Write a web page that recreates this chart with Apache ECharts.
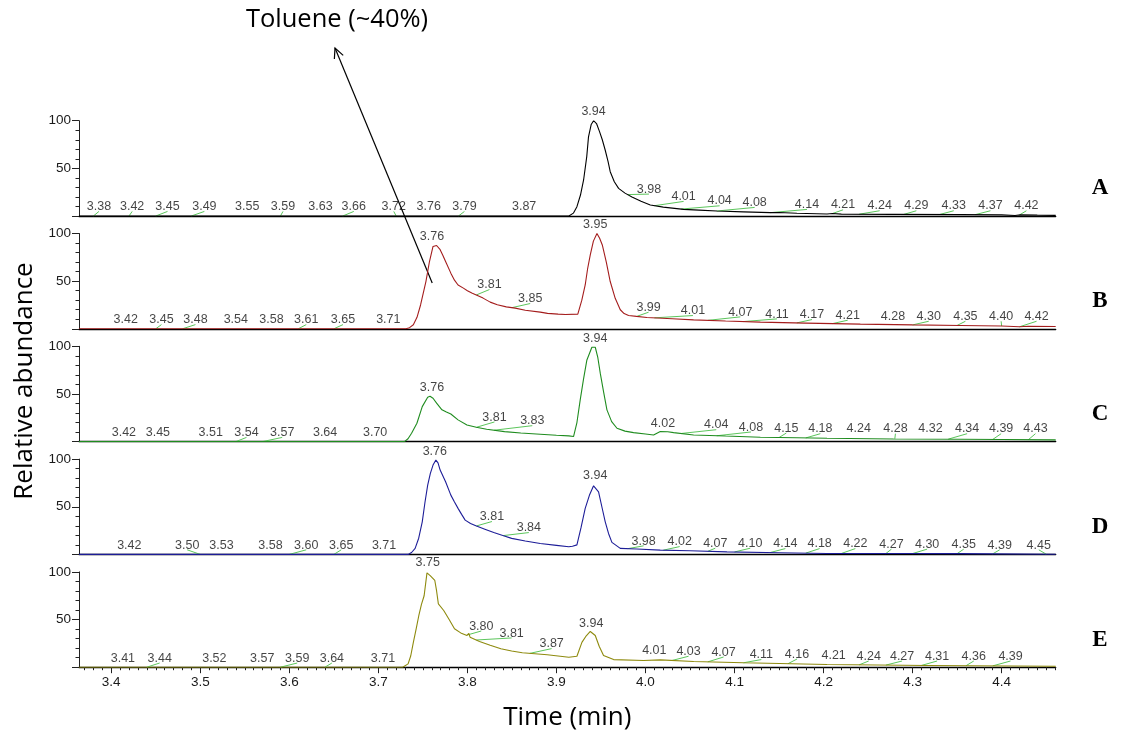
<!DOCTYPE html>
<html>
<head>
<meta charset="utf-8">
<script src="https://cdn.jsdelivr.net/npm/echarts@6/dist/echarts.min.js"></script>
<style>
  html, body { margin: 0; padding: 0; background: #fff; }
  #chart { width: 1123px; height: 738px; }
</style>
</head>
<body>
<div id="chart"></div>
<script>
// Retention-time window shared by all five chromatograms (min)
const timeMin = 3.3638;
const timeMax = 4.4607;

const xTickLabels = ['3.4', '3.5', '3.6', '3.7', '3.8', '3.9', '4.0', '4.1', '4.2', '4.3', '4.4'];
const yTickLabels = [50, 100];

const panelNames = ['A', 'B', 'C', 'D', 'E'];
const panelColors = ['#000000', '#a41d1d', '#1f8c1f', '#1d1d98', '#8e8a0e'];

// Traces: [time (min), relative abundance (%)]
const traceA = [
  [3.3638, 0], [3.914, 0], [3.9155, 1], [3.919, 3], [3.923, 9.8], [3.927, 22], [3.9305, 37.8],
  [3.934, 62], [3.936, 83], [3.939, 96], [3.9417, 100], [3.945, 97], [3.9484, 88.5], [3.9515, 80],
  [3.9548, 69], [3.958, 57], [3.9604, 46.5], [3.965, 36], [3.9698, 29], [3.977, 24], [3.9848, 20],
  [3.995, 15.5], [4.0054, 11.5], [4.02, 9.3], [4.0428, 7], [4.06, 6.2], [4.0803, 5.2], [4.11, 4.3],
  [4.1402, 3.5], [4.15, 3.6], [4.17, 2.9], [4.2039, 2.1], [4.21, 2.6], [4.22, 2.0], [4.2787, 1.7],
  [4.3537, 1.4], [4.40, 1.2], [4.415, 0.6], [4.421, 1.2], [4.44, 0.9], [4.4607, 0.7]
];
const traceB = [
  [3.3638, 0], [3.731, 0], [3.735, 1.2], [3.7393, 4.2], [3.7434, 12], [3.7474, 25], [3.7534, 49.6],
  [3.7574, 70.6], [3.7614, 86.4], [3.7634, 88], [3.7654, 87.4], [3.7694, 83], [3.7725, 77],
  [3.7755, 70.6], [3.7814, 58.4], [3.7855, 51], [3.7895, 46], [3.7955, 42.7], [3.80, 40],
  [3.8055, 37.4], [3.81, 35.5], [3.8176, 32.2], [3.8256, 28], [3.8336, 25.2], [3.8437, 23],
  [3.8537, 21.7], [3.865, 19.5], [3.8818, 17.5], [3.89, 16.2], [3.9019, 15.4], [3.91, 15],
  [3.924, 15.4], [3.9285, 30], [3.9323, 46], [3.935, 63], [3.938, 77.6], [3.9415, 92],
  [3.9455, 100], [3.9485, 95], [3.9515, 88], [3.956, 70], [3.9604, 49.6], [3.966, 32],
  [3.9717, 20], [3.976, 16], [3.981, 14], [3.99, 13], [4.0016, 11.9], [4.03, 10.5], [4.054, 9.4],
  [4.09, 8.2], [4.129, 7], [4.18, 6], [4.2413, 4.9], [4.30, 4.1], [4.3537, 3.5], [4.40, 2.9],
  [4.42, 2.1], [4.43, 2.7], [4.4607, 2.4]
];
const traceC = [
  [3.3638, 0], [3.7293, 0], [3.7333, 3], [3.7373, 8.8], [3.7433, 19.3], [3.7493, 36.7],
  [3.7554, 46.6], [3.758, 47.5], [3.7614, 45.5], [3.7654, 40.3], [3.7714, 33.3], [3.7764, 31],
  [3.7814, 29], [3.7895, 22.8], [3.7995, 17.5], [3.81, 15], [3.8216, 13], [3.8417, 10.5],
  [3.86, 9], [3.8818, 7.7], [3.90, 6.6], [3.9139, 6], [3.9192, 5.3], [3.923, 20], [3.9267, 43.8],
  [3.9305, 66], [3.9342, 85.7], [3.9398, 99], [3.9436, 99], [3.9465, 88], [3.9492, 71.8],
  [3.953, 52], [3.9567, 33.3], [3.962, 21], [3.968, 14], [3.977, 11], [3.9866, 9.4], [4.00, 8],
  [4.0091, 7], [4.0166, 10.5], [4.025, 10.3], [4.0316, 9.4], [4.0541, 7], [4.09, 5.8],
  [4.129, 4.6], [4.17, 4], [4.2039, 3.5], [4.2787, 2.8], [4.3537, 2.5], [4.40, 2.2], [4.4607, 1.8]
];
const traceD = [
  [3.3638, 0], [3.7334, 0], [3.7373, 2], [3.7413, 6.3], [3.7453, 17], [3.7493, 34.2],
  [3.7524, 55], [3.7554, 72.7], [3.7584, 85], [3.7614, 93.7], [3.7646, 99], [3.767, 96],
  [3.7694, 88.5], [3.7755, 76.2], [3.7814, 62.2], [3.7855, 55], [3.7895, 48.3], [3.7935, 42],
  [3.7975, 36], [3.8035, 32.5], [3.8095, 30], [3.8196, 26.5], [3.8296, 23], [3.8397, 19.8],
  [3.8497, 16.8], [3.865, 14], [3.8818, 11.5], [3.90, 9.5], [3.9139, 8], [3.918, 8.6],
  [3.923, 10], [3.9276, 28], [3.9323, 48.3], [3.937, 62], [3.9417, 72], [3.9473, 65.7],
  [3.951, 50], [3.9548, 34.2], [3.9585, 22], [3.9623, 12.6], [3.9717, 6.3], [3.99, 5.6],
  [4.0166, 4.5], [4.05, 3.8], [4.0915, 2.7], [4.15, 1.8], [4.2039, 1], [4.30, 0.9],
  [4.3537, 0.8], [4.4607, 0.2]
];
const traceE = [
  [3.3638, 0], [3.7273, 0], [3.7334, 3.5], [3.7364, 12], [3.7393, 26], [3.7424, 40],
  [3.7454, 54], [3.7484, 66], [3.7514, 75], [3.7546, 99], [3.7582, 96], [3.7634, 91],
  [3.7654, 80], [3.7674, 66.5], [3.7734, 59.5], [3.7795, 50], [3.7855, 40.3], [3.7925, 36],
  [3.7995, 33.3], [3.8016, 35.5], [3.803, 31.5], [3.8136, 27], [3.8256, 23], [3.8376, 19.3],
  [3.8497, 17], [3.8617, 15.1], [3.8897, 13], [3.9139, 10.5], [3.923, 11.5], [3.9286, 26],
  [3.9335, 33], [3.938, 37.5], [3.9436, 33.3], [3.948, 22], [3.9529, 12.3], [3.9642, 8],
  [3.9979, 7], [4.0166, 7.7], [4.0541, 6], [4.1102, 4.6], [4.2039, 2.8], [4.3163, 1.8],
  [4.4607, 1]
];

// Retention-time labels: [text, label centre time, label centre height, has leader line]
const peaksA = [
  ['3.38', 3.3862, 9.8, 1], ['3.42', 3.4235, 9.8, 1], ['3.45', 3.4632, 9.8, 1], ['3.49', 3.5046, 9.8, 1],
  ['3.55', 3.5527, 9.8, 0], ['3.59', 3.5929, 9.8, 1], ['3.63', 3.6350, 9.8, 0], ['3.66', 3.6724, 9.8, 1],
  ['3.72', 3.7173, 9.8, 1], ['3.76', 3.7566, 9.8, 0], ['3.79', 3.7967, 9.8, 1], ['3.87', 3.8637, 9.8, 0],
  ['3.94', 3.9417, 109.5, 0], ['3.98', 4.0039, 28, 1], ['4.01', 4.0428, 20.3, 1], ['4.04', 4.0833, 15.7, 1],
  ['4.08', 4.1226, 14, 1], ['4.14', 4.1814, 11.9, 1], ['4.21', 4.2219, 11.5, 1], ['4.24', 4.2630, 10.5, 1],
  ['4.29', 4.3042, 10.5, 1], ['4.33', 4.3462, 10.5, 1], ['4.37', 4.3874, 10.5, 1], ['4.42', 4.4278, 10.5, 1]
];
const peaksB = [
  ['3.42', 3.4163, 9.4, 0], ['3.45', 3.4564, 9.4, 1], ['3.48', 3.4946, 9.4, 1], ['3.54', 3.5399, 9.4, 0],
  ['3.58', 3.5800, 9.4, 0], ['3.61', 3.6190, 9.4, 1], ['3.65', 3.6603, 9.4, 1], ['3.71', 3.7112, 9.4, 0],
  ['3.76', 3.7602, 96.9, 0], ['3.81', 3.8248, 46.2, 1], ['3.85', 3.8705, 31.5, 1], ['3.95', 3.9436, 109, 0],
  ['3.99', 4.0035, 22.4, 1], ['4.01', 4.0533, 18.9, 1], ['4.07', 4.1065, 17.5, 1], ['4.11', 4.1477, 15.4, 1],
  ['4.17', 4.1870, 14.7, 1], ['4.21', 4.2271, 14, 1], ['4.28', 4.2780, 12.9, 0], ['4.30', 4.3181, 12.9, 1],
  ['4.35', 4.3593, 12.9, 1], ['4.40', 4.3994, 12.9, 1], ['4.42', 4.4392, 12.9, 1]
];
const peaksC = [
  ['3.42', 3.4142, 9.4, 0], ['3.45', 3.4524, 9.4, 0], ['3.51', 3.5118, 9.4, 0], ['3.54', 3.5519, 9.4, 1],
  ['3.57', 3.5920, 9.4, 1], ['3.64', 3.6402, 9.4, 0], ['3.70', 3.6964, 9.4, 0], ['3.76', 3.7602, 56.7, 0],
  ['3.81', 3.8304, 25.6, 1], ['3.83', 3.8729, 21.7, 1], ['3.94', 3.9436, 108.4, 0], ['4.02', 4.0196, 19.3, 0],
  ['4.04', 4.0795, 17.5, 1], ['4.08', 4.1185, 15.1, 1], ['4.15', 4.1582, 14, 1], ['4.18', 4.1964, 13.3, 1],
  ['4.24', 4.2395, 13.3, 0], ['4.28', 4.2807, 13.3, 1], ['4.32', 4.3200, 13.3, 0], ['4.34', 4.3612, 13.3, 1],
  ['4.39', 4.3994, 13.3, 1], ['4.43', 4.4380, 13.3, 1]
];
const peaksD = [
  ['3.42', 3.4203, 9.8, 0], ['3.50', 3.4853, 9.8, 1], ['3.53', 3.5238, 9.8, 0], ['3.58', 3.5789, 9.8, 0],
  ['3.60', 3.6190, 9.8, 1], ['3.65', 3.6583, 9.8, 1], ['3.71', 3.7064, 9.8, 0], ['3.76', 3.7634, 107.7, 0],
  ['3.81', 3.8276, 39.5, 1], ['3.84', 3.8690, 27.9, 1], ['3.94', 3.9436, 82.5, 0], ['3.98', 3.9979, 14, 1],
  ['4.02', 4.0384, 13.2, 1], ['4.07', 4.0784, 11.5, 1], ['4.10', 4.1177, 11.5, 1], ['4.14', 4.1571, 11.1, 1],
  ['4.18', 4.1956, 11.1, 1], ['4.22', 4.2357, 11.1, 1], ['4.27', 4.2762, 10.5, 1], ['4.30', 4.3163, 10.5, 1],
  ['4.35', 4.3574, 10.5, 1], ['4.39', 4.3978, 9.8, 1], ['4.45', 4.4417, 9.8, 1]
];
const peaksE = [
  ['3.41', 3.4131, 9.4, 0], ['3.44', 3.4544, 9.4, 1], ['3.52', 3.5158, 9.4, 0], ['3.57', 3.5696, 9.4, 0],
  ['3.59', 3.6089, 9.4, 1], ['3.64', 3.6478, 9.4, 1], ['3.71', 3.7052, 9.4, 0], ['3.75', 3.7554, 109.5, 0],
  ['3.80', 3.8156, 43, 1], ['3.81', 3.8497, 35.7, 1], ['3.87', 3.8946, 24.5, 1], ['3.94', 3.9390, 46.2, 0],
  ['4.01', 4.0099, 17.5, 0], ['4.03', 4.0484, 16.5, 1], ['4.07', 4.0877, 15.7, 1], ['4.11', 4.1301, 13, 1],
  ['4.16', 4.1702, 13.6, 1], ['4.21', 4.2113, 12.3, 0], ['4.24', 4.2507, 11.5, 1], ['4.27', 4.2882, 11.5, 1],
  ['4.31', 4.3275, 11.5, 1], ['4.36', 4.3687, 11.5, 1], ['4.39', 4.4100, 11.5, 1]
];

const annotationText = 'Toluene (~40%)';
const xAxisTitle = 'Time (min)';
const yAxisTitle = 'Relative abundance';

const traces = [traceA, traceB, traceC, traceD, traceE];
const peakLabels = [peaksA, peaksB, peaksC, peaksD, peaksE];

// Height of a trace at a given time (for where a leader line meets the trace)
function traceAt(trace, t) {
  for (let k = 1; k < trace.length; k++) {
    const [t0, v0] = trace[k - 1];
    const [t1, v1] = trace[k];
    if (t >= t0 && t <= t1) return v0 + (v1 - v0) * (t - t0) / (t1 - t0);
  }
  return trace[trace.length - 1][1];
}

const labelFont = 'Liberation Sans, Arial, sans-serif';
const titleFont = 'Open Sans, Noto Sans, sans-serif';

const gridLeft = 79, gridWidth = 976.7, gridTop0 = 120.7, gridPitch = 112.8, gridHeight = 95.3;
const last = panelNames.length - 1;

const grids = [], xAxes = [], yAxes = [], series = [];
const majorX = xTickLabels.map(Number);
const minorX = [];
for (let k = 337; k <= 446; k++) {
  if (k % 10 !== 0) minorX.push(k / 100);
}

panelNames.forEach((name, i) => {
  grids.push({ left: gridLeft, width: gridWidth, top: gridTop0 + i * gridPitch, height: gridHeight });
  const isBottom = i === last;
  xAxes.push({
    type: 'value', gridIndex: i, position: 'bottom', min: timeMin, max: timeMax,
    axisLine: { show: true, onZero: false, lineStyle: { color: '#000', width: 1.3 } },
    axisTick: { show: isBottom, customValues: majorX, length: 6, lineStyle: { color: '#222' } },
    axisLabel: {
      show: isBottom, customValues: majorX, margin: 8,
      formatter: v => v.toFixed(1), color: '#1a1a1a', fontSize: 13.5, fontFamily: labelFont
    },
    splitLine: { show: false }
  });
  // relative-abundance axis: labelled at 50 and 100, minor ticks every 10
  yAxes.push({
    type: 'value', gridIndex: i, position: 'left', min: 0, max: 100, interval: 50,
    axisLine: { show: true, onZero: false, lineStyle: { color: '#222', width: 1 } },
    axisTick: { show: true, length: 7, lineStyle: { color: '#222' } },
    minorTick: { show: true, splitNumber: 5, length: 3.5, lineStyle: { color: '#222' } },
    axisLabel: { show: true, customValues: yTickLabels, margin: 8, color: '#1a1a1a', fontSize: 13.5, fontFamily: labelFont },
    splitLine: { show: false },
    minorSplitLine: { show: false }
  });
});

// extra bottom axis carrying the 0.01-min minor ticks
xAxes.push({
  type: 'value', gridIndex: last, position: 'bottom', offset: 0, min: timeMin, max: timeMax,
  axisLine: { show: false, onZero: false },
  axisTick: { show: true, customValues: minorX, length: 3, lineStyle: { color: '#222' } },
  axisLabel: { show: false },
  splitLine: { show: false }
});

panelNames.forEach((name, i) => {
  const trace = traces[i];
  const peaks = peakLabels[i];
  series.push({
    name: 'leaders ' + name,
    type: 'lines', coordinateSystem: 'cartesian2d', xAxisIndex: i, yAxisIndex: i,
    silent: true, z: 2,
    lineStyle: { color: '#5cc65c', width: 1, opacity: 1 },
    data: peaks.filter(p => p[3]).map(p => ({
      coords: [[Number(p[0]), traceAt(trace, Number(p[0]))], [p[1], p[2] - 5]]
    }))
  });
  series.push({
    name: 'trace ' + name,
    type: 'line', xAxisIndex: i, yAxisIndex: i,
    data: trace, showSymbol: false, symbol: 'none', z: 3,
    lineStyle: { color: panelColors[i], width: 1.1 },
    silent: true
  });
  series.push({
    name: 'labels ' + name,
    type: 'scatter', xAxisIndex: i, yAxisIndex: i,
    symbolSize: 0, clip: false, silent: true, z: 4,
    data: peaks.map(p => ({ name: p[0], value: [p[1], p[2]] })),
    label: {
      show: true, position: 'inside', formatter: '{b}',
      color: '#141414', fontSize: 12.5, fontFamily: labelFont
    }
  });
});

const chart = echarts.init(document.getElementById('chart'), null, { renderer: 'canvas' });
chart.setOption({
  animation: false,
  backgroundColor: '#fff',
  grid: grids,
  xAxis: xAxes,
  yAxis: yAxes,
  series: series
});

// Panel letters, axis titles and the toluene call-out
const graphics = [];
panelNames.forEach((name, i) => {
  const p = chart.convertToPixel({ gridIndex: i }, [timeMax, 29]);
  graphics.push({
    type: 'text', x: 1100, y: p[1],
    style: { text: name, font: 'bold 23px "Liberation Serif", "Times New Roman", serif', fill: '#000', textAlign: 'center', textVerticalAlign: 'middle' }
  });
});
const axisMid = chart.convertToPixel({ gridIndex: last }, [(timeMin + timeMax) / 2, 0]);
graphics.push({
  type: 'text', x: axisMid[0], y: 718,
  style: { text: xAxisTitle, font: '26px ' + titleFont, fill: '#000', textAlign: 'center', textVerticalAlign: 'middle' }
});
graphics.push({
  type: 'text', x: 25, y: 381, rotation: Math.PI / 2,
  style: { text: yAxisTitle, font: '26px ' + titleFont, fill: '#000', textAlign: 'center', textVerticalAlign: 'middle' }
});
graphics.push({
  type: 'text', x: 337, y: 20,
  style: { text: annotationText, font: '25.5px ' + titleFont, fill: '#000', textAlign: 'center', textVerticalAlign: 'middle' }
});

// arrow from the first toluene peak in panel B up to the call-out text
const tail = chart.convertToPixel({ gridIndex: 1 }, [3.7605, 48]);
const head = [335, 48];
const dx = head[0] - tail[0], dy = head[1] - tail[1];
const len = Math.hypot(dx, dy);
const ux = dx / len, uy = dy / len;
const wing = 11, ang = 0.45;
function rot(x, y, a) { return [x * Math.cos(a) - y * Math.sin(a), x * Math.sin(a) + y * Math.cos(a)]; }
const w1 = rot(-ux, -uy, ang), w2 = rot(-ux, -uy, -ang);
graphics.push({
  type: 'polyline',
  shape: { points: [tail, head] },
  style: { stroke: '#000', lineWidth: 1.2, fill: null }
});
graphics.push({
  type: 'polyline',
  shape: { points: [[head[0] + w1[0] * wing, head[1] + w1[1] * wing], head, [head[0] + w2[0] * wing, head[1] + w2[1] * wing]] },
  style: { stroke: '#000', lineWidth: 1.2, fill: null }
});
chart.setOption({ graphic: graphics });
</script>
</body>
</html>
